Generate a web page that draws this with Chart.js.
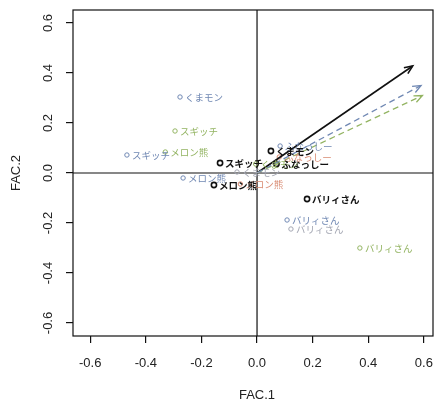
<!DOCTYPE html>
<html>
<head>
<meta charset="utf-8">
<script src="https://cdn.jsdelivr.net/npm/chart.js@4"></script>
<style>
  body { margin: 0; background: #fff; }
  canvas { display: block; }
</style>
</head>
<body>
<canvas id="chart" width="434" height="403"></canvas>
<script>
// Tick values for both axes
const xTicks = [-0.6, -0.4, -0.2, 0.0, 0.2, 0.4, 0.6];
const yTicks = [-0.6, -0.4, -0.2, 0.0, 0.2, 0.4, 0.6];

// Black (bold) group
const blackNames = ['くまモン', 'スギッチ', 'メロン熊', 'バリィさん', 'ふなっしー'];
const blackX = [0.05, -0.133, -0.155, 0.18, 0.07];
const blackY = [0.088, 0.04, -0.048, -0.104, 0.036];

// Blue group
const blueNames = ['くまモン', 'スギッチ', 'メロン熊', 'バリィさん', 'ふなっしー'];
const blueX = [-0.277, -0.468, -0.266, 0.108, 0.083];
const blueY = [0.304, 0.072, -0.02, -0.188, 0.108];

// Green group
const greenNames = ['スギッチ', 'メロン熊', 'バリィさん', 'くまモン'];
const greenX = [-0.295, -0.33, 0.37, -0.005];
const greenY = [0.168, 0.084, -0.3, 0.036];

// Grey group
const greyNames = ['バリィさん', 'くまモン'];
const greyX = [0.122, -0.072];
const greyY = [-0.224, 0.004];

// Orange group
const orangeNames = ['メロン熊', 'ふなっしー'];
const orangeX = [-0.06, 0.08];
const orangeY = [-0.044, 0.064];

// Arrow ends (all start at origin)
const arrowX = [0.56, 0.59, 0.595];
const arrowY = [0.428, 0.35, 0.31];

const cBlack = '#111111';
const cBlue = '#7088b3';
const cGreen = '#93b462';
const cGrey = '#a3a6b2';
const cOrange = '#d98b72';

function pts(xs, ys) {
  return xs.map((x, i) => ({ x: x, y: ys[i] }));
}

function pointSet(names, xs, ys, color, bold) {
  return {
    data: pts(xs, ys),
    names: names,
    bold: bold,
    borderColor: color,
    backgroundColor: 'rgba(0,0,0,0)',
    pointRadius: bold ? 2.6 : 2.2,
    pointBorderWidth: bold ? 1.6 : 1,
    showLine: false
  };
}

function arrowSet(i, color, dash, width) {
  return {
    type: 'line',
    data: [{ x: 0, y: 0 }, { x: arrowX[i], y: arrowY[i] }],
    arrow: true,
    borderColor: color,
    borderWidth: width,
    borderDash: dash,
    pointRadius: 0,
    fill: false
  };
}

const CJK = '"Noto Sans CJK JP", sans-serif';
const LAT = '"Liberation Sans", Arial, sans-serif';

// Frame, zero lines, labels, arrowheads, axis text
const decor = {
  id: 'decor',
  beforeDatasetsDraw(chart) {
    const ctx = chart.ctx;
    const a = chart.chartArea;
    const xs = chart.scales.x, ys = chart.scales.y;
    ctx.save();
    ctx.strokeStyle = '#111';
    ctx.lineWidth = 1.2;
    const x0 = xs.getPixelForValue(0), y0 = ys.getPixelForValue(0);
    ctx.beginPath();
    ctx.moveTo(x0, a.top); ctx.lineTo(x0, a.bottom);
    ctx.moveTo(a.left, y0); ctx.lineTo(a.right, y0);
    ctx.stroke();
    ctx.restore();
  },
  afterDatasetsDraw(chart) {
    const ctx = chart.ctx;
    const a = chart.chartArea;
    const xs = chart.scales.x, ys = chart.scales.y;
    ctx.save();

    // point labels
    chart.data.datasets.forEach((ds, di) => {
      if (!ds.names) return;
      const meta = chart.getDatasetMeta(di);
      ctx.font = (ds.bold ? 'bold ' : '') + '9.5px ' + CJK;
      ctx.fillStyle = ds.borderColor;
      ctx.textAlign = 'left';
      ctx.textBaseline = 'middle';
      meta.data.forEach((p, i) => {
        ctx.fillText(ds.names[i], p.x + 5, p.y);
      });
    });

    // arrowheads
    chart.data.datasets.forEach((ds, di) => {
      if (!ds.arrow) return;
      const meta = chart.getDatasetMeta(di);
      const p0 = meta.data[0], p1 = meta.data[1];
      const ang = Math.atan2(p1.y - p0.y, p1.x - p0.x);
      const L = 9;
      ctx.strokeStyle = ds.borderColor;
      ctx.lineWidth = ds.borderWidth;
      ctx.setLineDash([]);
      ctx.beginPath();
      ctx.moveTo(p1.x - L * Math.cos(ang - 0.4), p1.y - L * Math.sin(ang - 0.4));
      ctx.lineTo(p1.x, p1.y);
      ctx.lineTo(p1.x - L * Math.cos(ang + 0.4), p1.y - L * Math.sin(ang + 0.4));
      ctx.stroke();
    });

    // frame
    ctx.strokeStyle = '#111';
    ctx.lineWidth = 1.2;
    ctx.strokeRect(a.left, a.top, a.right - a.left, a.bottom - a.top);

    // tick labels
    ctx.fillStyle = '#222';
    ctx.font = '13px ' + LAT;
    ctx.textAlign = 'center';
    ctx.textBaseline = 'middle';
    xTicks.forEach(v => {
      ctx.fillText(v.toFixed(1), xs.getPixelForValue(v), 363);
    });
    yTicks.forEach(v => {
      ctx.save();
      ctx.translate(48, ys.getPixelForValue(v));
      ctx.rotate(-Math.PI / 2);
      ctx.fillText(v.toFixed(1), 0, 0);
      ctx.restore();
    });

    // axis titles
    ctx.fillText('FAC.1', xs.getPixelForValue(0), 395);
    ctx.save();
    ctx.translate(16, ys.getPixelForValue(0));
    ctx.rotate(-Math.PI / 2);
    ctx.fillText('FAC.2', 0, 0);
    ctx.restore();

    ctx.restore();
  }
};

function setTicks(values) {
  return function(scale) {
    scale.ticks = values.map(v => ({ value: v }));
  };
}

new Chart(document.getElementById('chart'), {
  type: 'scatter',
  data: {
    datasets: [
      arrowSet(1, cBlue, [6, 4], 1.3),
      arrowSet(2, cGreen, [6, 4], 1.3),
      arrowSet(0, cBlack, [], 1.6),
      pointSet(greyNames, greyX, greyY, cGrey, false),
      pointSet(orangeNames, orangeX, orangeY, cOrange, false),
      pointSet(greenNames, greenX, greenY, cGreen, false),
      pointSet(blueNames, blueX, blueY, cBlue, false),
      pointSet(blackNames, blackX, blackY, cBlack, true)
    ]
  },
  options: {
    responsive: false,
    animation: false,
    layout: { autoPadding: false, padding: { top: 10, right: 1, left: 0, bottom: 0 } },
    plugins: { legend: { display: false }, tooltip: { enabled: false } },
    scales: {
      x: {
        type: 'linear',
        min: -0.662,
        max: 0.633,
        afterBuildTicks: setTicks(xTicks),
        afterFit(scale) { scale.height = 67; },
        grid: { drawOnChartArea: false, tickLength: 7, color: '#111', lineWidth: 1.2 },
        border: { display: false },
        ticks: { display: false }
      },
      y: {
        type: 'linear',
        min: -0.652,
        max: 0.652,
        afterBuildTicks: setTicks(yTicks),
        afterFit(scale) { scale.width = 73; },
        grid: { drawOnChartArea: false, tickLength: 7, color: '#111', lineWidth: 1.2 },
        border: { display: false },
        ticks: { display: false }
      }
    }
  },
  plugins: [decor]
});
</script>
</body>
</html>
